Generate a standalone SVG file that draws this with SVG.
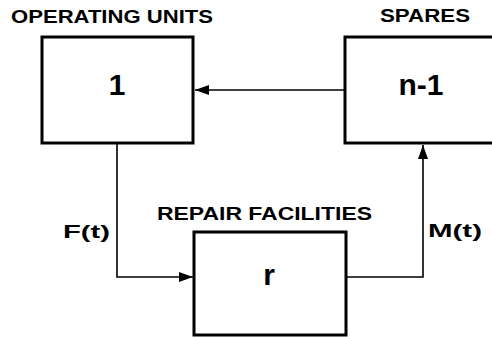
<svg xmlns="http://www.w3.org/2000/svg" width="492" height="337" viewBox="0 0 492 337">
<style>
.box{fill:#fff;stroke:#000;stroke-width:3}
.lbl{font-family:"Liberation Sans",Arial,sans-serif;font-weight:bold;font-size:18px;fill:#000}
.big{font-family:"Liberation Sans",Arial,sans-serif;font-weight:bold;font-size:30px;fill:#000;text-anchor:middle}
.con{fill:none;stroke:#000;stroke-width:1.6}
</style>
<defs>
<marker id="ah" markerWidth="14" markerHeight="10" refX="14" refY="5" orient="auto" markerUnits="userSpaceOnUse">
<path d="M0,0 L14,5 L0,10 Z" fill="#000"/>
</marker>
</defs>
<rect width="492" height="337" fill="#fff"/>
<g id="connectors">
<path class="con" d="M345,90 L195,90" marker-end="url(#ah)"/>
<path class="con" d="M117,143 L117,277 L193,277" marker-end="url(#ah)"/>
<path class="con" d="M346,277 L423,277 L423,145" marker-end="url(#ah)"/>
<text class="lbl" x="63" y="238" textLength="47" lengthAdjust="spacingAndGlyphs">F(t)</text>
<text class="lbl" x="428" y="237" textLength="54" lengthAdjust="spacingAndGlyphs">M(t)</text>
</g>
<g id="operating-units">
<text class="lbl" x="11" y="23" textLength="202" lengthAdjust="spacingAndGlyphs">OPERATING UNITS</text>
<rect class="box" x="42" y="37" width="151" height="106"/>
<text class="big" x="117" y="95">1</text>
</g>
<g id="spares">
<text class="lbl" x="380" y="22" textLength="90" lengthAdjust="spacingAndGlyphs">SPARES</text>
<rect class="box" x="345" y="37" width="152" height="106"/>
<text class="big" x="421" y="95">n-1</text>
</g>
<g id="repair-facilities">
<text class="lbl" x="157" y="220" textLength="215" lengthAdjust="spacingAndGlyphs">REPAIR FACILITIES</text>
<rect class="box" x="194" y="232" width="152" height="103"/>
<text class="big" x="269" y="285">r</text>
</g>
</svg>
